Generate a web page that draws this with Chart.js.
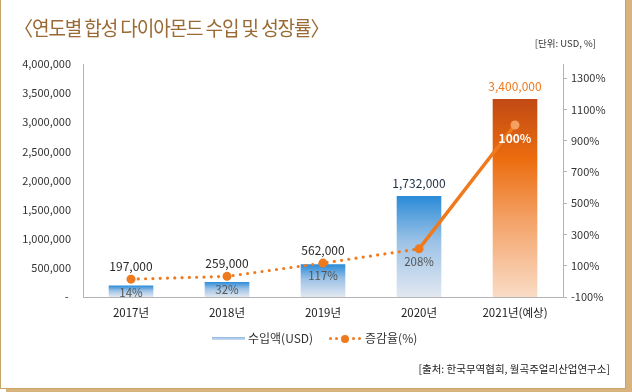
<!DOCTYPE html>
<html><head><meta charset="utf-8">
<script src="https://cdn.jsdelivr.net/npm/chart.js@4/dist/chart.umd.min.js"></script>
<style>
html,body{margin:0;padding:0;background:#fff;}
#wrap{position:relative;width:632px;height:392px;overflow:hidden;background:#fff;font-family:"Noto Sans CJK KR","Noto Sans",sans-serif;}
#frame{position:absolute;left:0;top:-10px;width:626px;height:399px;box-sizing:border-box;border:1.5px solid #c9a36a;box-shadow:6px 4px 0 #d8b37b;background:#fff;}
#c{position:absolute;left:0;top:0;}
#title{position:absolute;left:14px;top:13px;font-size:20px;color:#9a6a35;white-space:nowrap;transform-origin:0 0;transform:scaleX(0.955);letter-spacing:-1.2px;}
#unit{position:absolute;right:36px;top:36px;font-size:9.5px;color:#333;white-space:nowrap;}
#src{position:absolute;right:22px;top:361px;font-size:10.5px;color:#222;white-space:nowrap;}
#legend{position:absolute;left:212px;top:329px;height:18px;font-size:12px;color:#333;white-space:nowrap;}
#legend span{position:absolute;top:0;line-height:18px;}
.bl{position:absolute;top:8px;left:0;width:33px;height:3px;background:linear-gradient(#8fb8e2,#cfe0f2);}
.dot{position:absolute;width:3px;height:3px;border-radius:50%;background:#ef7a1e;top:8px;}
.pt{position:absolute;width:8px;height:8px;border-radius:50%;background:#ef7a1e;top:5.5px;}
</style></head>
<body>
<div id="wrap">
<div id="frame"></div>
<canvas id="c" width="632" height="392"></canvas>
<div id="title">〈연도별 합성 다이아몬드 수입 및 성장률〉</div>
<div id="unit">[단위: USD, %]</div>
<div id="legend">
  <div class="bl"></div><span style="left:36px">수입액(USD)</span>
  <div class="dot" style="left:117px"></div><div class="dot" style="left:123px"></div>
  <div class="pt" style="left:129px"></div>
  <div class="dot" style="left:140px"></div><div class="dot" style="left:146px"></div>
  <span style="left:153px">증감율(%)</span>
</div>
<div id="src">[출처: 한국무역협회, 월곡주얼리산업연구소]</div>
</div>
<script>
const categories = ["2017년","2018년","2019년","2020년","2021년(예상)"];
const importValues = [197000, 259000, 562000, 1732000, 3400000];
const importLabels = ["197,000","259,000","562,000","1,732,000","3,400,000"];
const rateValues = [14, 32, 117, 208, 1000];
const rateLabels = ["14%","32%","117%","208%","100%"];
const leftTicks = [0,500000,1000000,1500000,2000000,2500000,3000000,3500000,4000000];
const rightTicks = [-100,100,300,500,700,900,1100,1300];

const FONT = '"Noto Sans CJK KR","Noto Sans",sans-serif';

function barGradient(ctx){
  const chart = ctx.chart;
  const ys = chart.scales.y;
  if(!chart.chartArea || !ys) return '#5aa0e0';
  const top = ys.getPixelForValue(ctx.raw);
  const base = ys.getPixelForValue(0);
  const g = chart.ctx.createLinearGradient(0, top, 0, base);
  if(ctx.dataIndex === 4){
    g.addColorStop(0, '#c04a14');
    g.addColorStop(0.3, '#ec6c0e');
    g.addColorStop(0.6, '#f3a064');
    g.addColorStop(1, '#fadcc6');
  } else {
    g.addColorStop(0, '#2a8bd8');
    g.addColorStop(0.45, '#9cc2e6');
    g.addColorStop(1, '#e2e8f1');
  }
  return g;
}

const labelPlugin = {
  id:'labels',
  afterDatasetsDraw(chart){
    const c = chart.ctx;
    const pts = chart.getDatasetMeta(0).data;
    const bars = chart.getDatasetMeta(1).data;
    c.save();
    c.textAlign='center'; c.textBaseline='middle';
    bars.forEach((b,i)=>{
      const y = Math.min(b.y, pts[i].y) - 13;
      c.font = '12px ' + FONT;
      c.fillStyle = i===4 ? '#ef7a1e' : (i===3 ? '#1e2e44' : '#2a2a2a');
      c.fillText(importLabels[i], b.x, y);
    });
    pts.forEach((p,i)=>{
      if(i===4){ c.font='bold 12px ' + FONT; c.fillStyle='#ffffff'; }
      else { c.font='11.5px ' + FONT; c.fillStyle='#555555'; }
      c.fillText(rateLabels[i], p.x, p.y + 13);
    });
    c.restore();
  }
};

new Chart(document.getElementById('c'), {
  data:{
    labels: categories,
    datasets:[
      {
        type:'line', label:'증감율(%)', data: rateValues, yAxisID:'y1', order:0,
        borderColor:'#ef7a1e', borderWidth:3, borderCapStyle:'round',
        pointBackgroundColor:(ctx)=> ctx.dataIndex===4 ? '#f3a060' : '#ef7a1e',
        pointBorderWidth:0, pointRadius:4.5,
        segment:{
          borderDash:(ctx)=> ctx.p0DataIndex < 3 ? [0, 7.3] : undefined,
          borderWidth:(ctx)=> ctx.p0DataIndex < 3 ? 3.2 : 3.5
        },
        tension:0
      },
      {
        type:'bar', label:'수입액(USD)', data: importValues, yAxisID:'y', order:1,
        backgroundColor: barGradient, borderWidth:0,
        categoryPercentage:1, barPercentage:0.465
      }
    ]
  },
  options:{
    responsive:false, animation:false,
    layout:{padding:{top:64,left:0,right:0,bottom:65}},
    plugins:{legend:{display:false},tooltip:{enabled:false}},
    scales:{
      x:{
        grid:{display:false, drawTicks:false},
        border:{display:true,color:'#b4b4b4',width:1},
        ticks:{padding:9,color:'#222',font:{family:FONT,size:11.5}},
        afterFit(s){ s.height = 30; }
      },
      y:{
        position:'left', min:0, max:4000000,
        grid:{display:false, drawTicks:false},
        border:{display:true,color:'#b4b4b4',width:1},
        afterBuildTicks(s){ s.ticks = leftTicks.map(v=>({value:v})); },
        ticks:{padding:12,color:'#333',font:{family:FONT,size:11},
          callback:(v)=> v===0 ? '- ' : v.toLocaleString('en-US')},
        afterFit(s){ s.width = 83; }
      },
      y1:{
        position:'right', min:-100, max:1390,
        grid:{display:true, drawOnChartArea:false, drawTicks:true, tickLength:4, color:'#b4b4b4'},
        border:{display:true,color:'#b4b4b4',width:1},
        afterBuildTicks(s){ s.ticks = rightTicks.map(v=>({value:v})); },
        ticks:{padding:4,color:'#333',font:{family:FONT,size:11},
          callback:(v)=> v + '%'},
        afterFit(s){ s.width = 69; }
      }
    }
  },
  plugins:[labelPlugin]
});
</script>
</body></html>
